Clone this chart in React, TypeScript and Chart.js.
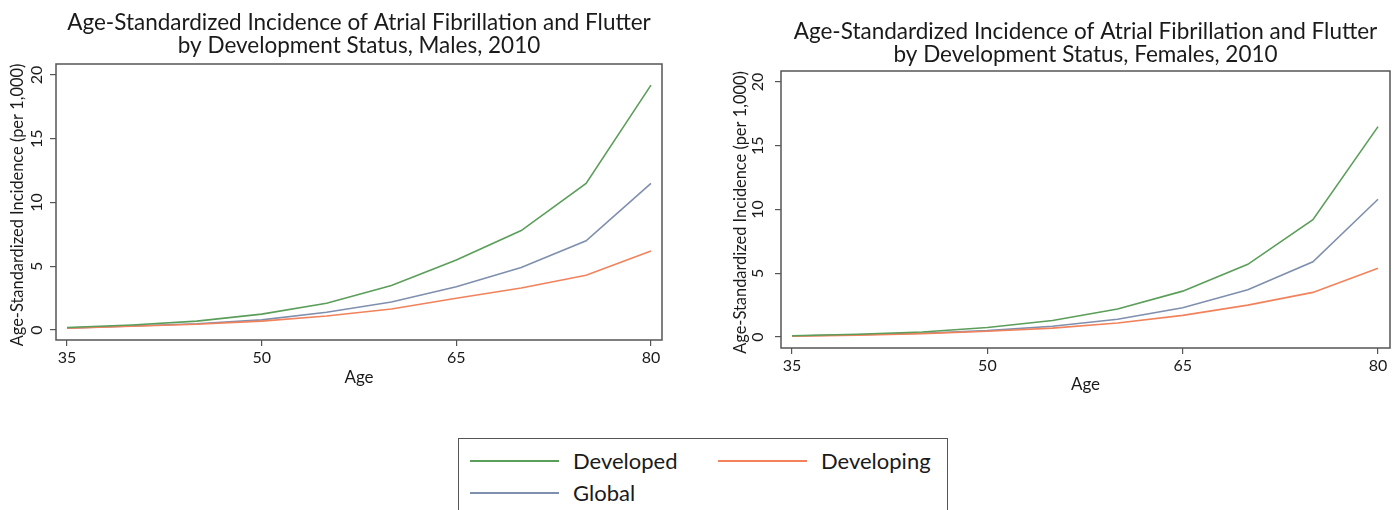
import React, { useEffect, useRef } from "react";
import { Chart, registerables } from "chart.js";

Chart.register(...registerables);

const AGES = [35, 40, 45, 50, 55, 60, 65, 70, 75, 80];
const X_TICKS = [35, 50, 65, 80];
const Y_TICKS = [0, 5, 10, 15, 20];

const MALE_DEVELOPED = [0.2, 0.4, 0.7, 1.25, 2.1, 3.5, 5.5, 7.8, 11.5, 19.2];
const MALE_DEVELOPING = [0.15, 0.3, 0.45, 0.7, 1.1, 1.65, 2.5, 3.3, 4.3, 6.2];
const MALE_GLOBAL = [0.15, 0.32, 0.5, 0.8, 1.4, 2.2, 3.4, 4.9, 7.0, 11.5];

const FEMALE_DEVELOPED = [0.1, 0.22, 0.4, 0.75, 1.3, 2.2, 3.6, 5.7, 9.2, 16.5];
const FEMALE_DEVELOPING = [0.07, 0.15, 0.27, 0.45, 0.7, 1.1, 1.7, 2.5, 3.5, 5.4];
const FEMALE_GLOBAL = [0.08, 0.18, 0.3, 0.5, 0.85, 1.4, 2.3, 3.7, 5.9, 10.8];

const SERIES_NAMES = ["Developed", "Developing", "Global"];
const SERIES_COLORS = ["#5a9e5a", "#f2825c", "#7f8fae"];

const Y_TITLE = "Age-Standardized Incidence (per 1,000)";
const X_TITLE = "Age";
const MALE_TITLE = ["Age-Standardized Incidence of Atrial Fibrillation and Flutter", "by Development Status, Males, 2010"];
const FEMALE_TITLE = ["Age-Standardized Incidence of Atrial Fibrillation and Flutter", "by Development Status, Females, 2010"];

const FONT = "Lato, 'Open Sans', sans-serif";
const TEXT = "#1a1a1a";

type PanelProps = {
  title: string[];
  series: number[][];
  left: number;
  box: { left: number; top: number; right: number; bottom: number };
  titleY: number;
  xTitleY: number;
  yTickX: number;
  yTitleX: number;
  xMin: number;
  xMax: number;
  yMin: number;
  yMax: number;
};

const W = 699;
const H = 420;

function Panel(p: PanelProps) {
  const ref = useRef<HTMLCanvasElement | null>(null);
  useEffect(() => {
    if (!ref.current) return;
    const decor = {
      id: "decor",
      afterDraw(chart: any) {
        const { ctx, chartArea: a, scales } = chart;
        ctx.save();
        ctx.strokeStyle = "#555";
        ctx.lineWidth = 1.5;
        ctx.strokeRect(a.left, a.top, a.right - a.left, a.bottom - a.top);
        ctx.fillStyle = TEXT;
        ctx.textAlign = "center";
        ctx.textBaseline = "middle";
        const cx = (a.left + a.right) / 2;
        ctx.font = `22.5px ${FONT}`;
        p.title.forEach((t, i) => ctx.fillText(t, cx, p.titleY + i * 23));
        ctx.font = `17px ${FONT}`;
        ctx.fillText(X_TITLE, cx, p.xTitleY);
        const ys = scales.y;
        ctx.font = `16px ${FONT}`;
        Y_TICKS.forEach((v) => {
          const py = ys.getPixelForValue(v);
          ctx.save();
          ctx.translate(p.yTickX, py);
          ctx.rotate(-Math.PI / 2);
          ctx.fillText(String(v), 0, 0);
          ctx.restore();
        });
        ctx.font = `16.4px ${FONT}`;
        ctx.save();
        ctx.translate(p.yTitleX, (a.top + a.bottom) / 2 + 3);
        ctx.rotate(-Math.PI / 2);
        ctx.fillText(Y_TITLE, 0, 0);
        ctx.restore();
        ctx.restore();
      },
    };
    const chart = new Chart(ref.current, {
      type: "line",
      data: {
        datasets: p.series.map((vals, i) => ({
          label: SERIES_NAMES[i],
          data: AGES.map((x, j) => ({ x, y: vals[j] })),
          borderColor: SERIES_COLORS[i],
          backgroundColor: SERIES_COLORS[i],
          borderWidth: 1.6,
          pointRadius: 0,
          tension: 0,
        })),
      },
      options: {
        responsive: false,
        animation: false,
        layout: {
          padding: { left: 0, top: p.box.top, right: W - p.box.right, bottom: 0 },
        },
        plugins: { legend: { display: false }, title: { display: false }, tooltip: { enabled: false } },
        scales: {
          x: {
            type: "linear",
            min: p.xMin,
            max: p.xMax,
            afterBuildTicks: (s: any) => {
              s.ticks = X_TICKS.map((v) => ({ value: v }));
            },
            afterFit: (s: any) => {
              s.height = H - p.box.bottom;
            },
            grid: { drawOnChartArea: false, drawTicks: true, tickLength: 6, color: "#555", lineWidth: 1.2 },
            border: { display: false },
            ticks: {
              font: { family: FONT, size: 16 },
              color: TEXT,
              padding: 2,
              maxRotation: 0,
              minRotation: 0,
              callback: (v: any) => String(v),
            },
          },
          y: {
            type: "linear",
            min: p.yMin,
            max: p.yMax,
            afterBuildTicks: (s: any) => {
              s.ticks = Y_TICKS.map((v) => ({ value: v }));
            },
            afterFit: (s: any) => {
              s.width = p.box.left;
            },
            grid: { drawOnChartArea: false, drawTicks: true, tickLength: 6, color: "#555", lineWidth: 1.2 },
            border: { display: false },
            ticks: { display: false },
          },
        },
      },
      plugins: [decor],
    } as any);
    return () => chart.destroy();
  }, []);
  return (
    <canvas
      ref={ref}
      width={W}
      height={H}
      style={{ position: "absolute", left: p.left, top: 0, width: W, height: H }}
    />
  );
}

function LegendItem({ color, label, x, y }: { color: string; label: string; x: number; y: number }) {
  return (
    <>
      <div style={{ position: "absolute", left: x, top: y - 1, width: 89, height: 2, background: color }} />
      <div
        style={{
          position: "absolute",
          left: x + 103,
          top: y - 14,
          height: 28,
          lineHeight: "28px",
          fontFamily: FONT,
          fontSize: 22,
          color: TEXT,
          whiteSpace: "nowrap",
        }}
      >
        {label}
      </div>
    </>
  );
}

export default function App() {
  return (
    <div
      style={{
        position: "fixed",
        left: 0,
        top: 0,
        width: 1398,
        height: 510,
        overflow: "hidden",
        background: "#fff",
      }}
    >
      <Panel
        title={MALE_TITLE}
        series={[MALE_DEVELOPED, MALE_DEVELOPING, MALE_GLOBAL]}
        left={0}
        box={{ left: 56, top: 64, right: 662, bottom: 340 }}
        titleY={23}
        xTitleY={378}
        yTickX={37}
        yTitleX={18}
        xMin={34.15}
        xMax={80.85}
        yMin={-0.78}
        yMax={20.86}
      />
      <Panel
        title={FEMALE_TITLE}
        series={[FEMALE_DEVELOPED, FEMALE_DEVELOPING, FEMALE_GLOBAL]}
        left={699}
        box={{ left: 82, top: 71, right: 691, bottom: 348 }}
        titleY={32}
        xTitleY={385}
        yTickX={59}
        yTitleX={42}
        xMin={34.15}
        xMax={80.92}
        yMin={-0.86}
        yMax={20.86}
      />
      <div
        style={{
          position: "absolute",
          left: 458,
          top: 438,
          width: 490,
          height: 100,
          border: "1.5px solid #555",
          boxSizing: "border-box",
        }}
      />
      <LegendItem color={SERIES_COLORS[0]} label={SERIES_NAMES[0]} x={470} y={461} />
      <LegendItem color={SERIES_COLORS[1]} label={SERIES_NAMES[1]} x={718} y={461} />
      <LegendItem color={SERIES_COLORS[2]} label={SERIES_NAMES[2]} x={470} y={493} />
    </div>
  );
}
